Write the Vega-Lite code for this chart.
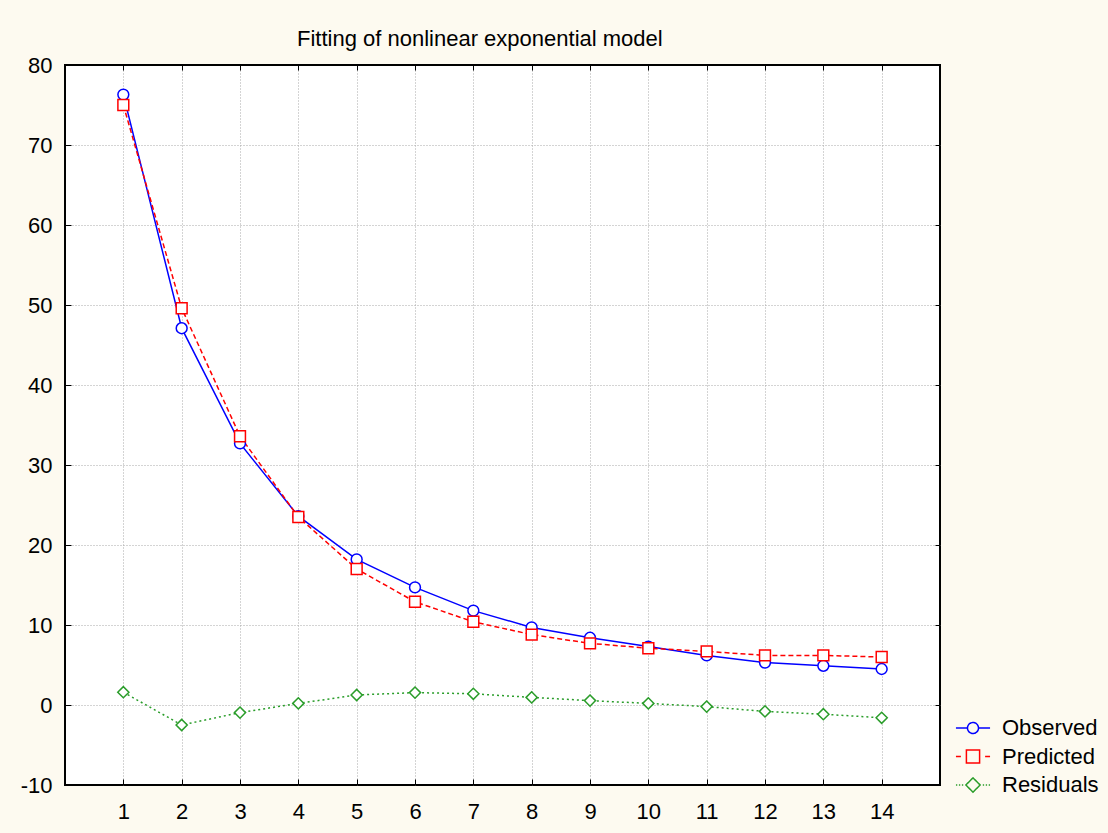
{
  "$schema": "https://vega.github.io/schema/vega-lite/v6.json",
  "width": 875,
  "height": 720,
  "autosize": "none",
  "padding": {"left": 65, "top": 65, "right": 168, "bottom": 48},
  "background": "#fdfaf0",
  "config": {
    "view": {"fill": "white", "stroke": "black", "strokeWidth": 2},
    "font": "Liberation Sans",
    "axis": {
      "domain": false,
      "tickColor": "black",
      "tickWidth": 1,
      "labelFont": "Liberation Sans",
      "labelFontSize": 22,
      "labelColor": "black",
      "gridColor": "#a8a8a8",
      "gridDash": [1, 2],
      "gridWidth": 1,
      "title": null
    }
  },
  "title": {
    "text": "Fitting of nonlinear exponential model",
    "font": "Liberation Sans",
    "fontSize": 22,
    "fontWeight": "normal",
    "color": "black",
    "anchor": "start",
    "frame": "group",
    "dx": 232,
    "offset": -14,
    "baseline": "alphabetic"
  },
  "data": {
    "values": [
      {"x": 1, "series": "Observed", "value": 76.3},
      {"x": 2, "series": "Observed", "value": 47.1},
      {"x": 3, "series": "Observed", "value": 32.7},
      {"x": 4, "series": "Observed", "value": 23.6},
      {"x": 5, "series": "Observed", "value": 18.2},
      {"x": 6, "series": "Observed", "value": 14.7},
      {"x": 7, "series": "Observed", "value": 11.8},
      {"x": 8, "series": "Observed", "value": 9.7},
      {"x": 9, "series": "Observed", "value": 8.4},
      {"x": 10, "series": "Observed", "value": 7.3},
      {"x": 11, "series": "Observed", "value": 6.2},
      {"x": 12, "series": "Observed", "value": 5.3},
      {"x": 13, "series": "Observed", "value": 4.9},
      {"x": 14, "series": "Observed", "value": 4.5},
      {"x": 1, "series": "Predicted", "value": 75.0},
      {"x": 2, "series": "Predicted", "value": 49.6},
      {"x": 3, "series": "Predicted", "value": 33.6},
      {"x": 4, "series": "Predicted", "value": 23.5},
      {"x": 5, "series": "Predicted", "value": 17.0},
      {"x": 6, "series": "Predicted", "value": 12.9},
      {"x": 7, "series": "Predicted", "value": 10.4},
      {"x": 8, "series": "Predicted", "value": 8.8},
      {"x": 9, "series": "Predicted", "value": 7.7},
      {"x": 10, "series": "Predicted", "value": 7.1},
      {"x": 11, "series": "Predicted", "value": 6.7},
      {"x": 12, "series": "Predicted", "value": 6.2},
      {"x": 13, "series": "Predicted", "value": 6.2},
      {"x": 14, "series": "Predicted", "value": 6.0},
      {"x": 1, "series": "Residuals", "value": 1.6},
      {"x": 2, "series": "Residuals", "value": -2.5},
      {"x": 3, "series": "Residuals", "value": -0.95},
      {"x": 4, "series": "Residuals", "value": 0.2},
      {"x": 5, "series": "Residuals", "value": 1.25},
      {"x": 6, "series": "Residuals", "value": 1.55},
      {"x": 7, "series": "Residuals", "value": 1.4},
      {"x": 8, "series": "Residuals", "value": 0.95},
      {"x": 9, "series": "Residuals", "value": 0.55},
      {"x": 10, "series": "Residuals", "value": 0.2},
      {"x": 11, "series": "Residuals", "value": -0.2},
      {"x": 12, "series": "Residuals", "value": -0.8},
      {"x": 13, "series": "Residuals", "value": -1.15},
      {"x": 14, "series": "Residuals", "value": -1.6}
    ]
  },
  "layer": [
    {
      "transform": [{"filter": "datum.series === 'Observed'"}],
      "mark": {"type": "line", "strokeWidth": 1.5},
      "encoding": {
        "x": {
          "field": "x", "type": "quantitative",
          "scale": {"domain": [0, 15], "nice": false, "zero": false},
          "axis": {"orient": "bottom", "values": [1,2,3,4,5,6,7,8,9,10,11,12,13,14], "grid": false, "tickSize": -6, "labelPadding": 22}
        },
        "y": {
          "field": "value", "type": "quantitative",
          "scale": {"domain": [-10, 80], "nice": false, "zero": false},
          "axis": {"orient": "left", "values": [-10,0,10,20,30,40,50,60,70,80], "grid": false, "tickSize": -6, "labelPadding": 19,
                   "labelExpr": "datum.value < 0 ? '-' + abs(datum.value) : '' + datum.value"}
        },
        "color": {
          "field": "series", "type": "nominal",
          "scale": {"domain": ["Observed", "Predicted", "Residuals"], "range": ["#0000ff", "#ff0000", "#2a9d2a"]},
          "legend": {
            "orient": "none", "legendX": 896, "legendY": 651, "title": null,
            "labelFont": "Liberation Sans", "labelFontSize": 22, "labelColor": "black",
            "symbolSize": 484, "symbolStrokeWidth": 1.5, "labelOffset": 17, "rowPadding": 5.5, "padding": 0, "labelLimit": 300,
            "encode": {"symbols": {"update": {
              "shape": {"signal": "datum.value === 'Observed' ? 'M-1.55,0L-0.5,0M0.5,0L1.55,0M-0.5,0A0.5,0.5,0,1,0,0.5,0A0.5,0.5,0,1,0,-0.5,0' : datum.value === 'Predicted' ? 'M-1.55,0L-1.1,0M1.1,0L1.55,0M-0.6,-0.6L0.6,-0.6L0.6,0.6L-0.6,0.6Z' : 'M-1.55,0L-1.43,0M-1.28,0L-1.16,0M-1.01,0L-0.89,0M0.89,0L1.01,0M1.16,0L1.28,0M1.43,0L1.55,0M-0.65,0L0,-0.65L0.65,0L0,0.65Z'"},
              "fill": {"value": "transparent"},
              "strokeDash": {"value": [1, 0]},
              "strokeWidth": {"value": 1.5},
              "opacity": {"value": 1}
            }}}
          }
        }
      }
    },
    {
      "transform": [{"filter": "datum.series === 'Predicted'"}],
      "mark": {"type": "line", "strokeWidth": 1.5, "strokeDash": [5, 3]},
      "encoding": {
        "x": {"field": "x", "type": "quantitative", "axis": null},
        "y": {"field": "value", "type": "quantitative", "axis": null},
        "color": {"field": "series", "type": "nominal"}
      }
    },
    {
      "transform": [{"filter": "datum.series === 'Residuals'"}],
      "mark": {"type": "line", "strokeWidth": 1.5, "strokeDash": [2, 3]},
      "encoding": {
        "x": {"field": "x", "type": "quantitative", "axis": null},
        "y": {"field": "value", "type": "quantitative", "axis": null},
        "color": {"field": "series", "type": "nominal"}
      }
    },
    {
      "transform": [{"filter": "datum.series === 'Observed'"}],
      "mark": {"type": "point", "shape": "circle", "size": 118, "filled": false, "fill": "white", "strokeWidth": 1.5, "opacity": 1},
      "encoding": {
        "x": {
          "field": "x", "type": "quantitative",
          "axis": {"orient": "top", "values": [1,2,3,4,5,6,7,8,9,10,11,12,13,14], "grid": true, "labels": false, "tickSize": -5}
        },
        "y": {
          "field": "value", "type": "quantitative",
          "axis": {"orient": "right", "values": [0,10,20,30,40,50,60,70], "grid": true, "labels": false, "tickSize": -5}
        },
        "color": {"field": "series", "type": "nominal"}
      }
    },
    {
      "transform": [{"filter": "datum.series === 'Predicted'"}],
      "mark": {"type": "point", "shape": "square", "size": 118, "filled": false, "fill": "white", "strokeWidth": 1.5, "opacity": 1},
      "encoding": {
        "x": {"field": "x", "type": "quantitative", "axis": null},
        "y": {"field": "value", "type": "quantitative", "axis": null},
        "color": {"field": "series", "type": "nominal"}
      }
    },
    {
      "transform": [{"filter": "datum.series === 'Residuals'"}],
      "mark": {"type": "point", "shape": "diamond", "size": 125, "filled": false, "fill": "white", "strokeWidth": 1.5, "opacity": 1},
      "encoding": {
        "x": {"field": "x", "type": "quantitative", "axis": null},
        "y": {"field": "value", "type": "quantitative", "axis": null},
        "color": {"field": "series", "type": "nominal"}
      }
    }
  ],
  "resolve": {"axis": {"x": "independent", "y": "independent"}}
}
